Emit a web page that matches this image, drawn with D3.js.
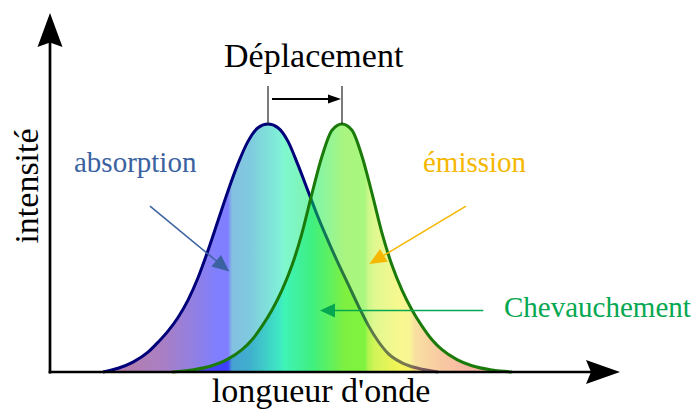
<!DOCTYPE html>
<html><head><meta charset="utf-8">
<script src="https://cdn.jsdelivr.net/npm/d3@7"></script>
<style>html,body{margin:0;padding:0;background:#fff;} svg{display:block;font-family:"Liberation Serif","Times New Roman",serif;}</style>
</head><body><svg id="c" width="695" height="412"></svg>
<script>
// ---- data (wavelength in arbitrary units, intensity normalised) ----
const absorptionWavelength = [53,68,83,98,108,118,128,138,148,158,168,178,188,198,208,218,228,238,248,258,268,278,288,298,308,318,328,338,353,368,388];
const absorptionIntensity  = [0,0.015,0.04,0.08,0.12,0.165,0.22,0.29,0.38,0.49,0.61,0.73,0.84,0.93,0.985,1,0.985,0.93,0.835,0.73,0.625,0.53,0.44,0.355,0.27,0.19,0.125,0.075,0.035,0.015,0];
const emissionWavelength = [122,142,162,177,192,202,212,222,232,242,252,262,272,282,292,302,312,322,332,342,352,362,372,382,392,407,422,442,462];
const emissionIntensity  = [0,0.008,0.025,0.05,0.09,0.13,0.185,0.25,0.33,0.43,0.56,0.72,0.87,0.975,1,0.975,0.87,0.72,0.56,0.43,0.33,0.25,0.185,0.13,0.09,0.05,0.025,0.008,0];
const absorptionPeak = 218;
const emissionPeak = 292;
const axisTitles = {x: "longueur d'onde", y: "intensité"};
const shiftLabel = "Déplacement";
const labelTexts = ["absorption", "émission", "Chevauchement"];

// ---- styles ----
const spectrumStops = [
  [55,'rgb(110,0,90)'],[78,'rgb(101,0,93)'],[112,'rgb(85,0,137)'],[138,'rgb(45,0,185)'],
  [168,'rgb(0,0,255)'],[178,'rgb(0,0,255)'],[182,'rgb(10,130,195)'],[200,'rgb(0,150,190)'],
  [218,'rgb(0,195,180)'],[230,'rgb(0,225,175)'],[234,'rgb(0,240,160)'],[250,'rgb(0,235,120)'],
  [262,'rgb(0,235,85)'],[280,'rgb(43,235,43)'],[295,'rgb(85,235,0)'],[315,'rgb(85,240,0)'],
  [318,'rgb(150,240,20)'],[325,'rgb(195,241,33)'],[350,'rgb(241,241,33)'],[360,'rgb(241,235,45)'],
  [365,'rgb(241,193,65)'],[390,'rgb(241,150,70)'],[420,'rgb(241,110,70)'],[460,'rgb(241,100,80)']
];
const colAbs = '#3b62a0', colEm = '#f5b700', colOv = '#05a850';

const svg = d3.select('#c');
const x = d3.scaleLinear().domain([0,560]).range([50,610]);
const y = d3.scaleLinear().domain([0,1]).range([372,124]);

const absData = absorptionWavelength.map((w,i)=>({w, v: absorptionIntensity[i]}));
const emData = emissionWavelength.map((w,i)=>({w, v: emissionIntensity[i]}));

// gradient
const g0 = spectrumStops[0][0], g1 = spectrumStops[spectrumStops.length-1][0];
const grad = svg.append('defs').append('linearGradient').attr('id','spec')
  .attr('gradientUnits','userSpaceOnUse')
  .attr('x1', x(g0)).attr('x2', x(g1)).attr('y1',0).attr('y2',0);
grad.selectAll('stop').data(spectrumStops).join('stop')
  .attr('offset', d => (d[0]-g0)/(g1-g0))
  .attr('stop-color', d => d[1]);

const area = d3.area().x(d=>x(d.w)).y0(y(0)).y1(d=>y(d.v)).curve(d3.curveMonotoneX);
const line = d3.line().x(d=>x(d.w)).y(d=>y(d.v)).curve(d3.curveMonotoneX);

svg.append('path').datum(absData).attr('d', area).attr('fill','url(#spec)').attr('fill-opacity',0.5);
svg.append('path').datum(absData).attr('d', line).attr('fill','none').attr('stroke','#00007a').attr('stroke-width',3);
svg.append('path').datum(emData).attr('d', area).attr('fill','url(#spec)').attr('fill-opacity',0.5);
svg.append('path').datum(emData).attr('d', line).attr('fill','none').attr('stroke','#1a7a0a').attr('stroke-width',3);

// axes
const x0 = x.range()[0], yb = y(0);
svg.append('line').attr('x1',x0).attr('y1',yb+1.5).attr('x2',x0).attr('y2',42).attr('stroke','#000').attr('stroke-width',2.7);
svg.append('line').attr('x1',x0-1.35).attr('y1',yb).attr('x2',592).attr('y2',yb).attr('stroke','#000').attr('stroke-width',2.7);
svg.append('path').attr('d',`M${x0},13 L${x0+12.5},47 L${x0},42.5 L${x0-12.5},47 Z`).attr('fill','#000');
svg.append('path').attr('d',`M620,${yb} L586,${yb-12} L591,${yb} L586,${yb+12} Z`).attr('fill','#000');

// axis titles
svg.append('text').attr('x',321).attr('y',402).attr('text-anchor','middle').attr('font-size',34).text(axisTitles.x);
svg.append('text').attr('transform','translate(38,186) rotate(-90)').attr('text-anchor','middle').attr('font-size',34).text(axisTitles.y);

// shift bracket
function arrow(x1,y1,x2,y2,color,sw,len,hw){
  const a = Math.atan2(y2-y1,x2-x1), c=Math.cos(a), s=Math.sin(a);
  const bx = x2-len*c, by = y2-len*s;
  svg.append('line').attr('x1',x1).attr('y1',y1).attr('x2',bx+2*c).attr('y2',by+2*s).attr('stroke',color).attr('stroke-width',sw);
  svg.append('path').attr('d',`M${x2},${y2} L${bx - hw*s},${by + hw*c} L${bx + hw*s},${by - hw*c} Z`).attr('fill',color);
}
const pa = x(absorptionPeak), pe = x(emissionPeak), peakY = y(1);
svg.append('line').attr('x1',pa).attr('x2',pa).attr('y1',86).attr('y2',peakY).attr('stroke','#222').attr('stroke-width',1.2);
svg.append('line').attr('x1',pe).attr('x2',pe).attr('y1',86).attr('y2',peakY).attr('stroke','#222').attr('stroke-width',1.2);
arrow(pa+4, 99, pe-1, 99, '#000', 2, 13, 4.5);
svg.append('text').attr('x',224).attr('y',67).attr('font-size',34).text(shiftLabel);

// labels with arrows
svg.append('text').attr('x',x(24)).attr('y',172).attr('font-size',29).attr('fill',colAbs).text(labelTexts[0]);
arrow(x(100), y(0.669), x(179.3), y(0.405), colAbs, 1.5, 17, 7.5);
svg.append('text').attr('x',x(373)).attr('y',172).attr('font-size',29).attr('fill',colEm).text(labelTexts[1]);
arrow(x(416), y(0.669), x(319.3), y(0.435), colEm, 1.5, 17, 7.5);
svg.append('text').attr('x',x(454)).attr('y',317).attr('font-size',29).attr('fill',colOv).text(labelTexts[2]);
arrow(x(433.3), y(0.248), x(270), y(0.248), colOv, 1.5, 15, 7);
</script></body></html>
